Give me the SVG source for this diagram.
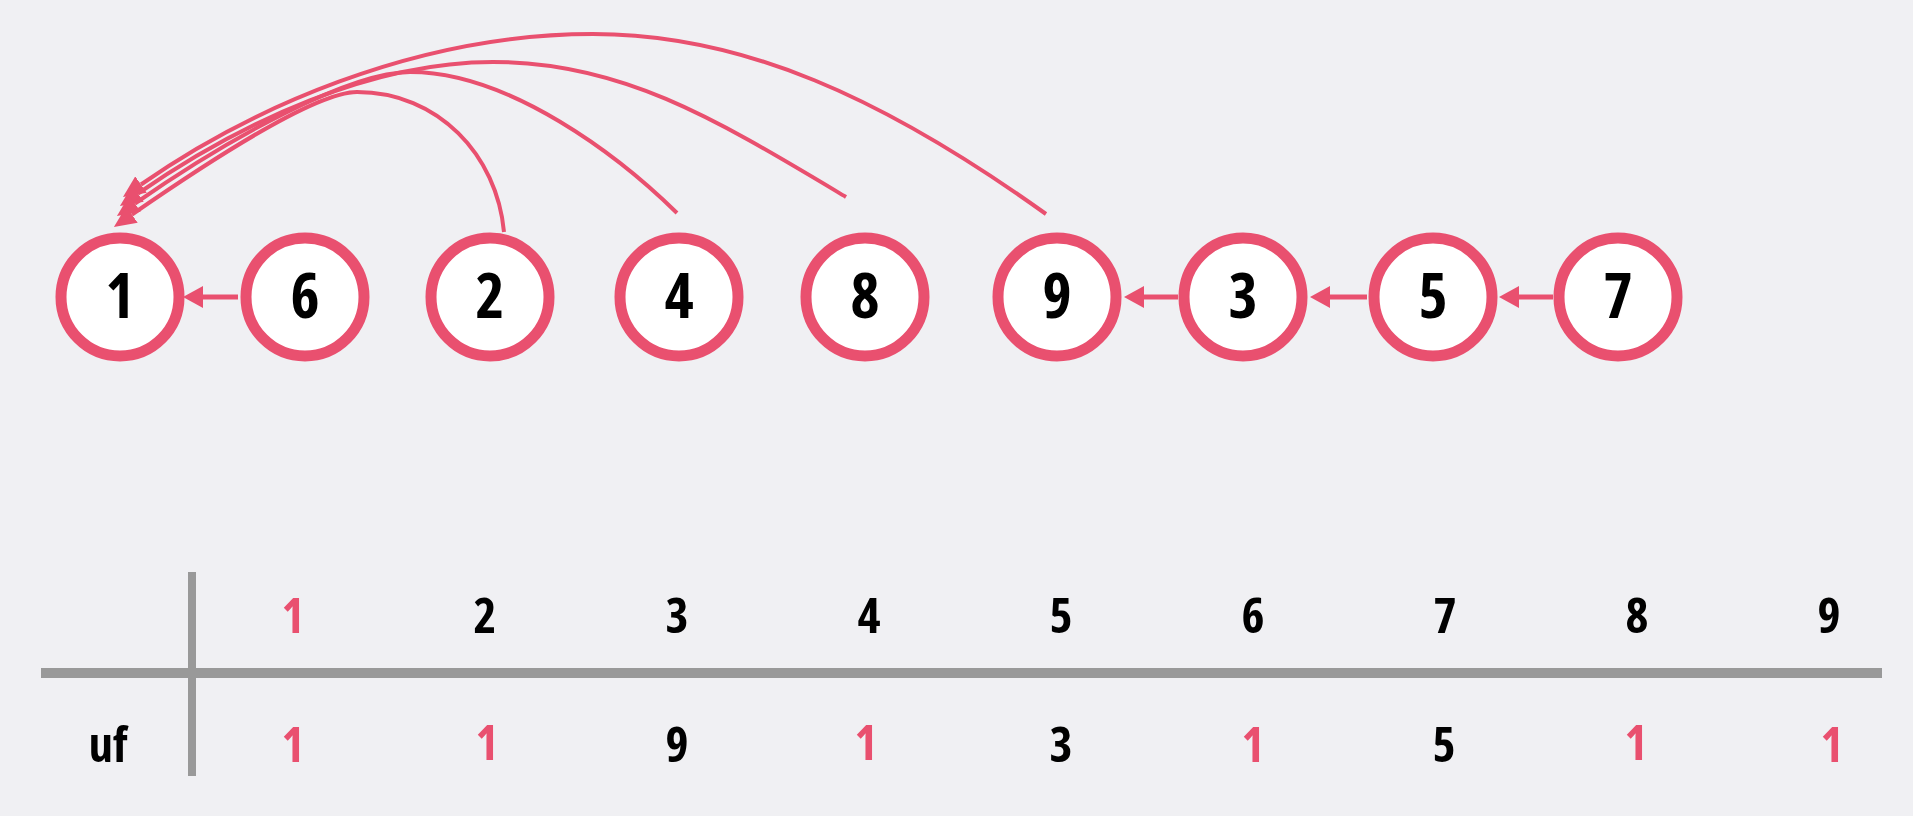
<svg xmlns="http://www.w3.org/2000/svg" width="1913" height="816" viewBox="0 0 1913 816">
<style>
.bg{fill:#F0F0F3}
.node .ring{fill:#FFFFFF;stroke:#E9506F;stroke-width:11}
.node text{font-family:"Open Sans","Noto Sans",sans-serif;font-weight:700;font-stretch:condensed;font-size:62px;fill:#000;text-anchor:middle}
.edge{fill:none;stroke:#E9506F;stroke-width:4}
.hedge{fill:none;stroke:#E9506F;stroke-width:5}
.tbl{stroke:#999999;fill:none}
.t{font-family:"Open Sans","Noto Sans",sans-serif;font-weight:700;font-stretch:condensed;font-size:49px;fill:#000;text-anchor:middle}
.r{fill:#E9506F}
</style>
<defs>
<marker id="ah" markerUnits="userSpaceOnUse" markerWidth="22" markerHeight="20" viewBox="0 0 22 20" refX="0" refY="10" orient="auto"><path d="M0,0 L22,10 L0,20 z" fill="#E9506F"/></marker>
<marker id="ahh" markerUnits="userSpaceOnUse" markerWidth="20" markerHeight="22" viewBox="0 0 20 22" refX="0" refY="11" orient="auto"><path d="M0,0 L20,11 L0,22 z" fill="#E9506F"/></marker>
</defs>
<rect class="bg" x="0" y="0" width="1913" height="816"/>
<g id="connectors">
<path class="edge" marker-end="url(#ah)" d="M1046,214 C884,98 743,34 593,34 C413,34 246,111 141,184.5"/>
<path class="edge" marker-end="url(#ah)" d="M846,197 C717,120 623,62 493,62 C373,62 243,120.5 138,193.5"/>
<path class="edge" marker-end="url(#ah)" d="M677,213 C620,157 510,72 410,72 C350,72 232,136 135,203.5"/>
<path class="edge" marker-end="url(#ah)" d="M504,232 C497,155 438,92 357,92 C317,92 221,153 132,214.5"/>
<path class="hedge" marker-end="url(#ahh)" d="M238,297 L203,297"/>
<path class="hedge" marker-end="url(#ahh)" d="M1178,297 L1144,297"/>
<path class="hedge" marker-end="url(#ahh)" d="M1367,297 L1330,297"/>
<path class="hedge" marker-end="url(#ahh)" d="M1553,297 L1519,297"/>
</g>
<g id="node-1" class="node"><path class="ring" d="M61,297 A59,59 0 1,0 179,297 A59,59 0 1,0 61,297 Z"/><text x="120" y="318">1</text></g>
<g id="node-6" class="node"><path class="ring" d="M246,297 A59,59 0 1,0 364,297 A59,59 0 1,0 246,297 Z"/><text x="305" y="318">6</text></g>
<g id="node-2" class="node"><path class="ring" d="M431,297 A59,59 0 1,0 549,297 A59,59 0 1,0 431,297 Z"/><text x="490" y="318">2</text></g>
<g id="node-4" class="node"><path class="ring" d="M620,297 A59,59 0 1,0 738,297 A59,59 0 1,0 620,297 Z"/><text x="679" y="318">4</text></g>
<g id="node-8" class="node"><path class="ring" d="M806,297 A59,59 0 1,0 924,297 A59,59 0 1,0 806,297 Z"/><text x="865" y="318">8</text></g>
<g id="node-9" class="node"><path class="ring" d="M998,297 A59,59 0 1,0 1116,297 A59,59 0 1,0 998,297 Z"/><text x="1057" y="318">9</text></g>
<g id="node-3" class="node"><path class="ring" d="M1184,297 A59,59 0 1,0 1302,297 A59,59 0 1,0 1184,297 Z"/><text x="1243" y="318">3</text></g>
<g id="node-5" class="node"><path class="ring" d="M1374,297 A59,59 0 1,0 1492,297 A59,59 0 1,0 1374,297 Z"/><text x="1433" y="318">5</text></g>
<g id="node-7" class="node"><path class="ring" d="M1559,297 A59,59 0 1,0 1677,297 A59,59 0 1,0 1559,297 Z"/><text x="1618" y="318">7</text></g>
<g id="table">
<line class="tbl" x1="192" y1="572" x2="192" y2="776" stroke-width="8"/>
<line class="tbl" x1="41" y1="673" x2="1882" y2="673" stroke-width="10"/>
<text class="t r" x="293" y="633">1</text>
<text class="t" x="485" y="633">2</text>
<text class="t" x="677" y="633">3</text>
<text class="t" x="869" y="633">4</text>
<text class="t" x="1061" y="633">5</text>
<text class="t" x="1253" y="633">6</text>
<text class="t" x="1445" y="633">7</text>
<text class="t" x="1637" y="633">8</text>
<text class="t" x="1829" y="633">9</text>
<text class="t" x="108" y="762">uf</text>
<text class="t r" x="293" y="762">1</text>
<text class="t r" x="487" y="760">1</text>
<text class="t" x="677" y="762">9</text>
<text class="t r" x="866" y="760">1</text>
<text class="t" x="1061" y="762">3</text>
<text class="t r" x="1253" y="762">1</text>
<text class="t" x="1444" y="762">5</text>
<text class="t r" x="1636" y="760">1</text>
<text class="t r" x="1832" y="762">1</text>
</g>
</svg>
